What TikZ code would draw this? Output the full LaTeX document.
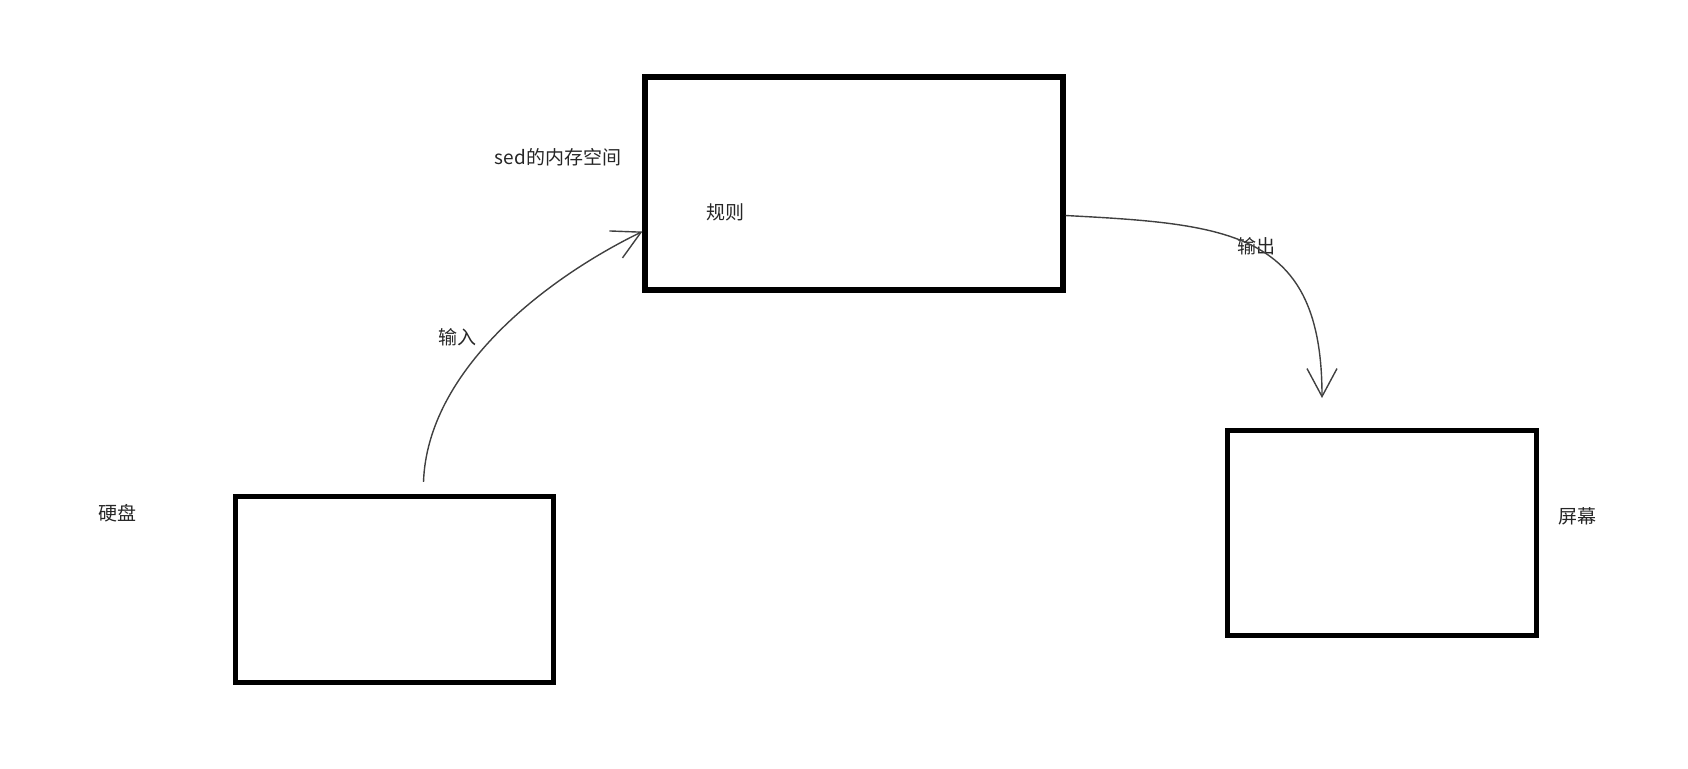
\documentclass[tikz,border=0pt]{standalone}
\usepackage{fontspec}
\setmainfont{Noto Sans CJK SC}
\usetikzlibrary{arrows.meta}

\tikzset{
    box/.style={draw=black, line width=2.6pt, inner sep=0pt},
    flow/.style={draw=black!75, line width=0.7pt,
                 -{Straight Barb[length=14pt,width=15pt,line width=0.7pt]}},
    lbl/.style={text=black!85, inner sep=0pt, font=\fontsize{9.5}{11}\selectfont}
}

\begin{document}
\begin{tikzpicture}[x=0.5pt,y=-0.5pt]
\useasboundingbox (0,0) rectangle (1688,768);
% boxes
\foreach \name/\cx/\cy/\w/\h in {
    mem/854/183.5/209/106.5,
    disk/394.5/589.5/158.75/93,
    screen/1381.7/532.9/154.5/102.25}{
    \node[box, minimum width=\w pt, minimum height=\h pt] (\name) at (\cx,\cy) {};
}
% labels
\node[lbl] (memname) at (558,157) {sed的内存空间};
\node[lbl] (rule) at (725,212) {规则};
\node[lbl] (diskname) at (117,513) {硬盘};
\node[lbl] (screenname) at (1577,516) {屏幕};
\node[lbl] (inlabel) at (457,337) {输入};
\node[lbl] (outlabel) at (1256,246) {输出};
% arrows
\coordinate (instart) at ([xshift=14.5pt,yshift=6pt]disk.north);
\coordinate (outend) at (1322,398);
\draw[flow] (instart) to[out=88,in=206,looseness=0.85] ([yshift=-24pt]mem.west);
\draw[flow] ([yshift=-16pt]mem.east) to[out=-3,in=90,looseness=1.35] (outend);
\end{tikzpicture}
\end{document}
